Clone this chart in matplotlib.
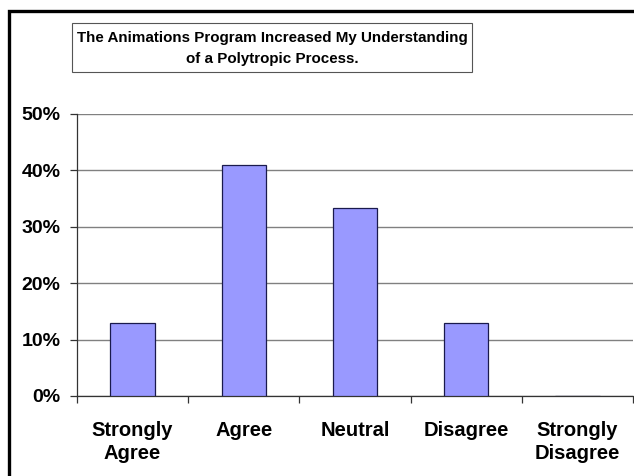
import matplotlib
matplotlib.use("Agg")
import matplotlib.pyplot as plt
from matplotlib.patches import Rectangle
from matplotlib.ticker import FixedLocator, PercentFormatter

categorias = ["Strongly\nAgree", "Agree", "Neutral", "Disagree", "Strongly\nDisagree"]
percentuais = [12.9, 41.0, 33.4, 12.9, 0.0]
titulo = "The Animations Program Increased My Understanding\nof a Polytropic Process."
yticks = [0, 10, 20, 30, 40, 50]

plt.rcParams['font.family'] = ['Liberation Sans', 'DejaVu Sans']

fig = plt.figure(figsize=(6.34, 4.76), dpi=100)
W, H = 634, 476

# moldura externa (cortada na direita e embaixo)
fig.patches.append(Rectangle((8.5 / W, -0.2), 1.2, 1.2 - 11 / H, transform=fig.transFigure,
                             fill=False, edgecolor="black", linewidth=2.4))

ax = fig.add_axes([77 / W, (H - 396) / H, (633 - 77) / W, (396 - 114) / H])

x = [i + 0.5 for i in range(len(categorias))]
ax.bar(x, percentuais, width=0.4, color="#9999FF", edgecolor="#1a1a4d", linewidth=0.9, zorder=3)

ax.set_xlim(0, 5)
ax.set_ylim(0, 50)
ax.yaxis.set_major_locator(FixedLocator(yticks))
ax.yaxis.set_major_formatter(PercentFormatter(decimals=0))
ax.grid(axis="y", color="#808080", linewidth=1.0, zorder=0)

ax.xaxis.set_major_locator(FixedLocator(range(6)))
ax.xaxis.set_major_formatter(plt.NullFormatter())
ax.xaxis.set_minor_locator(FixedLocator(x))
ax.set_xticklabels(categorias, minor=True)
ax.tick_params(axis="x", which="minor", length=0, pad=18, labelsize=14.5)
ax.tick_params(axis="x", which="major", length=5, width=0.9, color="#333333")
ax.tick_params(axis="y", length=5, width=0.9, color="#333333", pad=7, labelsize=14)
for lbl in ax.get_xticklabels(minor=True) + ax.get_yticklabels():
    lbl.set_fontweight("bold")
for lbl in ax.get_xticklabels(minor=True):
    lbl.set_linespacing(1.25)

for s in ["top", "right"]:
    ax.spines[s].set_visible(False)
ax.spines["left"].set_color("#333333")
ax.spines["bottom"].set_color("#333333")
ax.spines["left"].set_linewidth(0.9)
ax.spines["bottom"].set_linewidth(0.9)

# caixa do titulo
fig.patches.append(Rectangle((72 / W, 1 - 72 / H), 400 / W, 49 / H, transform=fig.transFigure,
                             facecolor="white", edgecolor="#555555", linewidth=0.8))
fig.text((72 + 472) / 2 / W, 1 - 48.5 / H, titulo, ha="center", va="center",
         fontsize=10.9, fontweight="bold", linespacing=1.6)

fig.savefig("out.png", dpi=100)
